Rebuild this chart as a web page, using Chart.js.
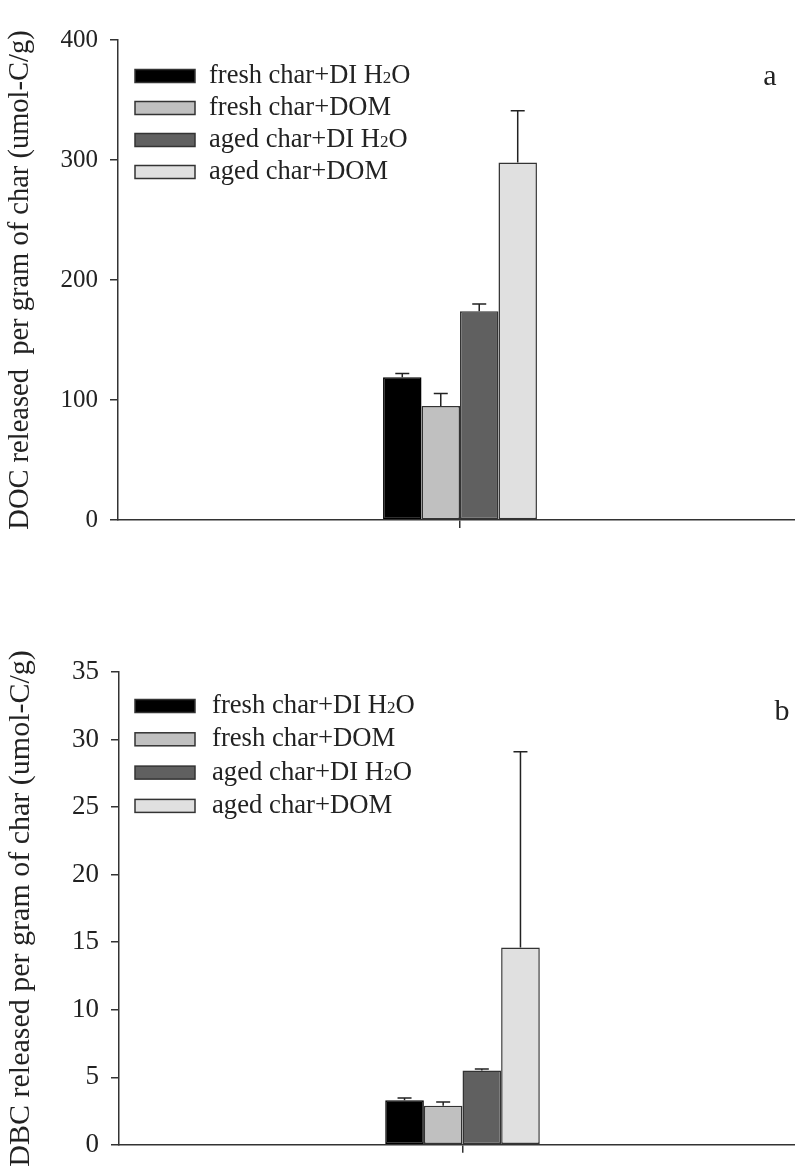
<!DOCTYPE html>
<html>
<head>
<meta charset="utf-8">
<script src="https://cdn.jsdelivr.net/npm/chart.js@4.4.0/dist/chart.umd.min.js"></script>
<style>
  html, body { margin: 0; padding: 0; background: #fff; overflow: hidden; }
  body { width: 795px; height: 1173px; position: relative; }
  canvas { position: absolute; left: 0; }
  #chartA { top: 0; }
  #chartB { top: 620px; }
</style>
</head>
<body>
<canvas id="chartA" width="810" height="560"></canvas>
<canvas id="chartB" width="810" height="553"></canvas>
<script>
// Treatments (one group of four bars per panel)
const categories = [''];
const seriesLabels = ['fresh char+DI H2O', 'fresh char+DOM', 'aged char+DI H2O', 'aged char+DOM'];
const seriesColors = ['#000000', '#c0c0c0', '#606060', '#e0e0e0'];

// Panel a: DOC released (umol-C/g)
const docMeans = [119, 95, 174, 298];
const docErrors = [3, 10.5, 6, 43];
const docTicks = [0, 100, 200, 300, 400];

// Panel b: DBC released (umol-C/g)
const dbcMeans = [3.3, 2.9, 5.5, 14.6];
const dbcErrors = [0.17, 0.27, 0.12, 14.5];
const dbcTicks = [0, 5, 10, 15, 20, 25, 30, 35];

const FONT = "'Liberation Serif', 'Times New Roman', serif";
const INK = '#222222';

// Upward error bars with a cap, placed through the y scale
const errorBarPlugin = {
  id: 'errorBars',
  afterDatasetsDraw(chart) {
    const ctx = chart.ctx;
    const y = chart.scales.y;
    ctx.save();
    ctx.strokeStyle = INK;
    ctx.lineWidth = 1.5;
    chart.data.datasets.forEach((ds, i) => {
      const meta = chart.getDatasetMeta(i);
      meta.data.forEach((bar, j) => {
        const v = ds.data[j];
        const e = ds.errors[j];
        const top = y.getPixelForValue(v + e);
        const base = y.getPixelForValue(v);
        ctx.beginPath();
        ctx.moveTo(bar.x, base);
        ctx.lineTo(bar.x, top);
        ctx.moveTo(bar.x - 7, top);
        ctx.lineTo(bar.x + 7, top);
        ctx.stroke();
      });
    });
    ctx.restore();
  }
};

// Boxed legend with a subscript 2 in H2O, plus the panel letter
const panelLegendPlugin = {
  id: 'panelLegend',
  afterDraw(chart, args, opts) {
    const ctx = chart.ctx;
    ctx.save();
    chart.data.datasets.forEach((ds, i) => {
      const cy = opts.y + i * opts.step;
      ctx.fillStyle = ds.backgroundColor;
      ctx.fillRect(opts.x, cy - 6.5, 60, 13);
      ctx.strokeStyle = '#333';
      ctx.lineWidth = 1.5;
      ctx.strokeRect(opts.x, cy - 6.5, 60, 13);
      ctx.fillStyle = INK;
      ctx.textBaseline = 'middle';
      ctx.textAlign = 'left';
      let tx = opts.tx;
      const parts = ds.label.split('H2O');
      ctx.font = opts.size + 'px ' + FONT;
      ctx.fillText(parts[0], tx, cy);
      if (parts.length > 1) {
        tx += ctx.measureText(parts[0]).width;
        ctx.fillText('H', tx, cy);
        tx += ctx.measureText('H').width;
        ctx.font = Math.round(opts.size * 0.65) + 'px ' + FONT;
        ctx.fillText('2', tx, cy + 3);
        tx += ctx.measureText('2').width;
        ctx.font = opts.size + 'px ' + FONT;
        ctx.fillText('O', tx, cy);
      }
    });
    ctx.font = '30px ' + FONT;
    ctx.textAlign = 'center';
    ctx.textBaseline = 'middle';
    ctx.fillText(opts.letter, opts.lx, opts.ly);
    ctx.restore();
  }
};

function makeDatasets(means, errors) {
  return seriesLabels.map((label, i) => ({
    label: label,
    data: [means[i]],
    errors: [errors[i]],
    backgroundColor: seriesColors[i],
    borderColor: i === 0 ? '#000' : '#333',
    borderWidth: 1.5,
    borderSkipped: false,
    categoryPercentage: 0.225,
    barPercentage: 1.0
  }));
}

function makeChart(id, cfg) {
  return new Chart(document.getElementById(id), {
    type: 'bar',
    data: { labels: categories, datasets: makeDatasets(cfg.means, cfg.errors) },
    options: {
      responsive: false,
      animation: false,
      layout: { padding: cfg.padding },
      plugins: {
        legend: { display: false },
        tooltip: { enabled: false },
        panelLegend: cfg.legend
      },
      scales: {
        x: {
          offset: true,
          afterFit(s) { s.height = 8; },
          grid: { offset: false, drawOnChartArea: false, drawTicks: true, tickLength: 8, color: '#333', lineWidth: 1.5 },
          border: { display: true, color: '#333', width: 1.5 },
          ticks: { display: false }
        },
        y: {
          min: cfg.ticks[0],
          max: cfg.ticks[cfg.ticks.length - 1],
          afterFit(s) { s.width = cfg.axisLeft; },
          afterBuildTicks(s) { s.ticks = cfg.ticks.map(v => ({ value: v })); },
          grid: { drawOnChartArea: false, drawTicks: true, tickLength: 8, color: '#333', lineWidth: 1.5 },
          border: { display: true, color: '#333', width: 1.5 },
          ticks: { color: INK, padding: 12, font: { family: FONT, size: cfg.tickSize } },
          title: {
            display: true,
            text: cfg.title,
            color: INK,
            padding: { top: cfg.titlePad, bottom: 0 },
            font: { family: FONT, size: cfg.titleSize }
          }
        }
      }
    },
    plugins: [errorBarPlugin, panelLegendPlugin]
  });
}

makeChart('chartA', {
  means: docMeans, errors: docErrors, ticks: docTicks,
  padding: { top: 40, right: 8, left: 0, bottom: 32 },
  axisLeft: 118,
  tickSize: 25, titleSize: 28.5, titlePad: 3,
  title: 'DOC released  per gram of char (umol-C/g)',
  legend: { x: 135, tx: 209, y: 76, step: 32, size: 26.5, letter: 'a', lx: 770, ly: 77 }
});

makeChart('chartB', {
  means: dbcMeans, errors: dbcErrors, ticks: dbcTicks,
  padding: { top: 52, right: 4, left: 0, bottom: 12 },
  axisLeft: 119,
  tickSize: 27, titleSize: 30, titlePad: 3,
  title: 'DBC released per gram of char (umol-C/g)',
  legend: { x: 135, tx: 212, y: 86, step: 33.3, size: 26.7, letter: 'b', lx: 782, ly: 92 }
});
</script>
</body>
</html>
